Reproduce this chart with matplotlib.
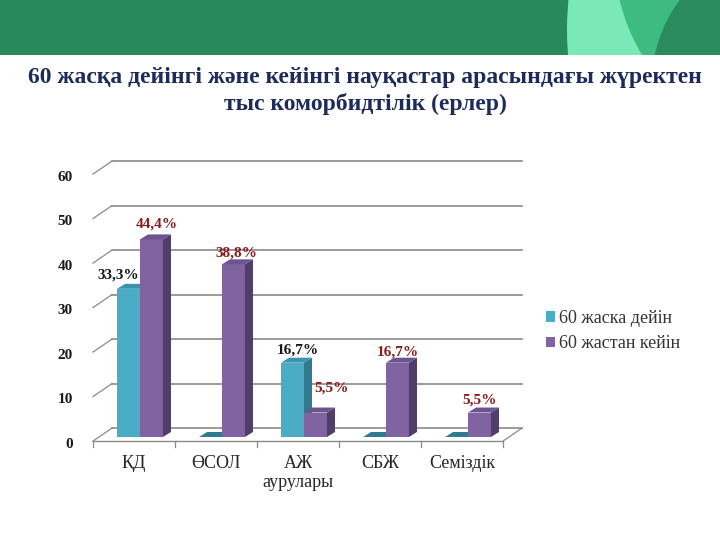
import matplotlib.pyplot as plt
from matplotlib.patches import Polygon, Rectangle, Ellipse

# data
categories = ["ҚД", "ӨСОЛ", "АЖ\nаурулары", "СБЖ", "Семіздік"]
under_60 = [33.3, 0, 16.7, 0, 0]
over_60 = [44.4, 38.8, 5.5, 16.7, 5.5]
under_labels = ["33,3%", "", "16,7%", "", ""]
over_labels = ["44,4%", "38,8%", "5,5%", "16,7%", "5,5%"]
series_names = ["60 жаска дейін", "60 жастан кейін"]
y_ticks = [0, 10, 20, 30, 40, 50, 60]
title = ("60 жасқа дейінгі және кейінгі науқастар арасындағы жүректен\n"
         "тыс коморбидтілік (ерлер)")

# label nudges (x in category units, y in value units)
under_nudge = [(-0.13, 3.1), None, (0.07, 2.9), None, None]
over_nudge = [(0.07, 3.5), (0.04, 2.5), (0.2, 5.5), (0.0, 2.4), (0.0, 2.8)]

# 3d look
bar_w = 0.28
pair_shift = 0.073
bdx, bdy = 0.098, 1.12      # bar depth
wdx, wdy = 0.232, 2.92      # wall depth
back = 2.0                  # back wall offset

cyan = ("#4bacc6", "#3b93ad", "#2f7a8f")    # front, top, side
purple = ("#8064a2", "#6c5490", "#4f3e6a")
serif = "Liberation Serif"

fig = plt.figure(figsize=(7.2, 5.4), dpi=100)
ax = fig.add_axes([0, 0, 1, 1])
ax.set_xlim(-1.634, 7.146)
ax.set_ylim(-23.15, 98.2)
ax.axis("off")

# green header band
band = Rectangle((0, 4.85), 7.2, 0.55, transform=fig.dpi_scale_trans,
                 fc="#288a5b", ec="none")
fig.patches.append(band)
for (cx, cy, w, h, c) in [(6.95, 5.1, 2.56, 4.0, "#7be8b7"),
                          (8.14, 5.87, 4.0, 4.0, "#3dbb80"),
                          (8.01, 4.52, 3.0, 3.0, "#2a8b5c")]:
    e = Ellipse((cx, cy), w, h, transform=fig.dpi_scale_trans, fc=c, ec="none")
    fig.patches.append(e)
    e.set_clip_path(band)

fig.text(0.507, 1 - 91 / 540, title, ha="center", va="center",
         fontsize=17, fontweight="bold", family=serif, color="#1c2b5a",
         linespacing=1.25)

# back wall gridlines + left diagonals
n = len(categories)
for v in y_ticks:
    ax.plot([-0.5 + wdx, n - 0.5 + wdx], [v + back, v + back],
            color="#8a8a8a", lw=1.2, zorder=1)
    ax.plot([-0.5, -0.5 + wdx], [v + back - wdy, v + back],
            color="#8a8a8a", lw=0.9, zorder=1)
    ax.text(-0.744, v - 1.6, str(v), ha="right", va="center", fontsize=11,
            fontweight="bold", family=serif, color="#1a1a1a")

# floor front edge, right diagonal and category ticks
floor = back - wdy
ax.plot([-0.5, n - 0.5], [floor, floor], color="#8a8a8a", lw=1.0, zorder=1)
ax.plot([n - 0.5, n - 0.5 + wdx], [floor, back], color="#8a8a8a", lw=0.9, zorder=1)
for i in range(n + 1):
    ax.plot([i - 0.5, i - 0.5], [floor, floor - 1.3], color="#8a8a8a", lw=0.9, zorder=1)


def bar3d(x0, h, cols, z):
    x1 = x0 + bar_w
    if h > 0:
        ax.bar(x0, h, width=bar_w, align="edge", color=cols[0], zorder=z)
        ax.add_patch(Polygon([(x1, 0), (x1, h), (x1 + bdx, h + bdy), (x1 + bdx, bdy)],
                             closed=True, fc=cols[2], ec="none", zorder=z))
        top = cols[1]
    else:
        top = cols[2]
    ax.add_patch(Polygon([(x0, h), (x1, h), (x1 + bdx, h + bdy), (x0 + bdx, h + bdy)],
                         closed=True, fc=top, ec="none", zorder=z))


for i in range(n):
    cx = i + pair_shift
    bar3d(cx - bar_w, under_60[i], cyan, 2 + 2 * i)
    bar3d(cx, over_60[i], purple, 3 + 2 * i)
    if under_nudge[i]:
        dx, dy = under_nudge[i]
        ax.text(cx - bar_w / 2 + dx, under_60[i] + dy, under_labels[i],
                ha="center", va="center", fontsize=11, fontweight="bold",
                family=serif, color="#141420", zorder=20)
    dx, dy = over_nudge[i]
    ax.text(cx + bar_w / 2 + dx, over_60[i] + dy, over_labels[i],
            ha="center", va="center", fontsize=11, fontweight="bold",
            family=serif, color="#8b1a1a", zorder=20)
    ax.text(i, -4.0, categories[i], ha="center", va="top", fontsize=13,
            family=serif, color="#262626", linespacing=1.2)

handles = [Rectangle((0, 0), 1, 1, fc=cyan[0]), Rectangle((0, 0), 1, 1, fc=purple[0])]
leg = fig.legend(handles, series_names, loc="center left",
                 bbox_to_anchor=(530 / 720, 1 - 331 / 540), frameon=False,
                 prop={"family": serif, "size": 13}, handlelength=0.5,
                 handleheight=0.5, handletextpad=0.2, labelspacing=0.45)
for t in leg.get_texts():
    t.set_color("#333333")

fig.savefig("out.png", dpi=100)
